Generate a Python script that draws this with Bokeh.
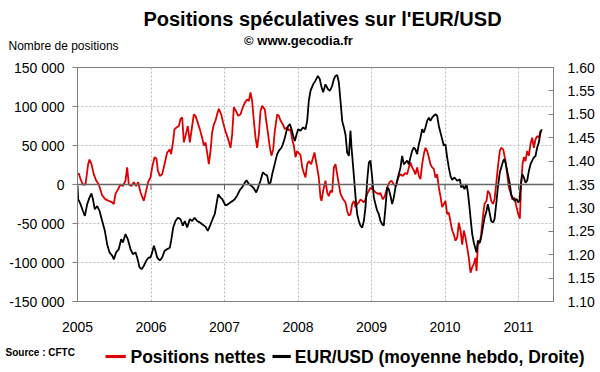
from bokeh.plotting import figure
from bokeh.models import (Range1d, LinearAxis, FixedTicker, Span, Label,
                          NumeralTickFormatter)
from bokeh.embed import file_html
from bokeh.resources import INLINE

# ---------------- data ----------------
pos_dates = [
    2005.000, 2005.018, 2005.041, 2005.073, 2005.109, 2005.145, 2005.163, 2005.190, 2005.222, 2005.254,
    2005.290, 2005.336, 2005.381, 2005.426, 2005.472, 2005.494, 2005.517, 2005.553, 2005.585, 2005.617,
    2005.653, 2005.676, 2005.698, 2005.735, 2005.766, 2005.798, 2005.825, 2005.857, 2005.902, 2005.925,
    2005.961, 2005.993, 2006.016, 2006.048, 2006.075, 2006.093, 2006.120, 2006.152, 2006.184, 2006.220,
    2006.256, 2006.274, 2006.302, 2006.320, 2006.347, 2006.379, 2006.401, 2006.424, 2006.447, 2006.469,
    2006.501, 2006.528, 2006.560, 2006.583, 2006.605, 2006.637, 2006.664, 2006.696, 2006.719, 2006.741,
    2006.764, 2006.787, 2006.810, 2006.832, 2006.855, 2006.878, 2006.900, 2006.923, 2006.955, 2006.982,
    2007.014, 2007.036, 2007.059, 2007.082, 2007.104, 2007.127, 2007.159, 2007.186, 2007.218, 2007.249,
    2007.277, 2007.308, 2007.331, 2007.354, 2007.376, 2007.399, 2007.422, 2007.444, 2007.467, 2007.490,
    2007.512, 2007.549, 2007.567, 2007.594, 2007.617, 2007.639, 2007.662, 2007.685, 2007.717, 2007.739,
    2007.762, 2007.794, 2007.821, 2007.853, 2007.875, 2007.898, 2007.921, 2007.943, 2007.966, 2007.989,
    2008.011, 2008.034, 2008.057, 2008.079, 2008.102, 2008.125, 2008.147, 2008.179, 2008.206, 2008.224,
    2008.252, 2008.283, 2008.306, 2008.320, 2008.342, 2008.374, 2008.397, 2008.419, 2008.442, 2008.465,
    2008.488, 2008.510, 2008.533, 2008.556, 2008.578, 2008.615, 2008.646, 2008.669, 2008.692, 2008.714,
    2008.737, 2008.760, 2008.782, 2008.805, 2008.828, 2008.850, 2008.873, 2008.896, 2008.918, 2008.941,
    2008.964, 2008.986, 2009.023, 2009.054, 2009.090, 2009.122, 2009.154, 2009.181, 2009.213, 2009.245,
    2009.272, 2009.303, 2009.335, 2009.362, 2009.394, 2009.426, 2009.462, 2009.485, 2009.508, 2009.530,
    2009.553, 2009.576, 2009.598, 2009.621, 2009.644, 2009.666, 2009.689, 2009.712, 2009.734, 2009.757,
    2009.780, 2009.802, 2009.825, 2009.848, 2009.870, 2009.893, 2009.916, 2009.938, 2009.961, 2009.984,
    2010.006, 2010.029, 2010.052, 2010.075, 2010.098, 2010.120, 2010.143, 2010.166, 2010.188, 2010.211,
    2010.234, 2010.256, 2010.279, 2010.302, 2010.324, 2010.347, 2010.370, 2010.392, 2010.415, 2010.429,
    2010.447, 2010.474, 2010.492, 2010.519, 2010.538, 2010.565, 2010.583, 2010.610, 2010.628, 2010.655,
    2010.674, 2010.701, 2010.719, 2010.746, 2010.764, 2010.792, 2010.823, 2010.846, 2010.869, 2010.891,
    2010.914, 2010.946, 2010.973, 2010.996, 2011.018, 2011.036, 2011.055, 2011.073, 2011.095, 2011.118,
    2011.141, 2011.163, 2011.186, 2011.209, 2011.231, 2011.254, 2011.277, 2011.299,
]
positions_nettes = [
    13000, 14000, 7000, 0, 0, 26000, 32000, 26000, 13000, 5000,
    0, -14000, -19000, -21000, -23000, -25000, -12000, -6000, 0, -2000,
    5000, 22000, 0, -2000, 3000, -2000, 3000, -10000, -21000, -12000,
    3000, 9000, 22000, 35000, 33000, 18000, 11000, 13000, 26000, 41000,
    45000, 39000, 56000, 71000, 73000, 75000, 84000, 86000, 54000, 62000,
    75000, 54000, 75000, 90000, 88000, 79000, 71000, 60000, 50000, 54000,
    41000, 26000, 43000, 67000, 77000, 82000, 90000, 97000, 90000, 79000,
    68000, 62000, 55000, 47000, 64000, 99000, 94000, 88000, 90000, 99000,
    105000, 109000, 107000, 118000, 107000, 82000, 60000, 47000, 64000, 94000,
    101000, 96000, 82000, 64000, 47000, 37000, 45000, 69000, 90000, 88000,
    82000, 77000, 71000, 73000, 69000, 71000, 58000, 50000, 35000, 43000,
    40000, 38000, 22000, 15000, 9000, 26000, 30000, 26000, 35000, 41000,
    26000, 9000, -17000, -21000, -8000, 5000, -10000, -15000, -8000, -10000,
    22000, 26000, 13000, 0, -12000, -19000, -23000, -34000, -40000, -38000,
    -25000, -21000, -29000, -25000, -23000, -19000, -21000, -23000, -19000, -12000,
    -8000, -4000, -7000, -10000, -12000, -11000, -19000, -15000, -4000, 3000,
    5000, 0, -2000, 9000, 13000, 11000, 15000, 13000, 22000, 28000,
    22000, 18000, 13000, 22000, 11000, 7000, 26000, 39000, 47000, 43000,
    35000, 26000, 22000, 20000, 9000, 13000, -4000, -15000, -29000, -25000,
    -21000, -38000, -36000, -48000, -59000, -64000, -72000, -68000, -49000, -59000,
    -77000, -59000, -68000, -81000, -94000, -113000, -106000, -102000, -94000, -111000,
    -77000, -74000, -64000, -38000, -25000, -21000, -8000, -12000, -21000, -25000,
    -19000, 5000, 22000, 43000, 47000, 45000, 30000, 13000, -4000, -10000,
    -19000, -17000, -29000, -38000, -44000, 0, 26000, 35000, 30000, 43000,
    37000, 52000, 60000, 47000, 58000, 62000, 60000, 69000,
]

eur_dates = [
    2005.000, 2005.009, 2005.041, 2005.073, 2005.100, 2005.132, 2005.163, 2005.190, 2005.209, 2005.236,
    2005.268, 2005.299, 2005.336, 2005.372, 2005.404, 2005.435, 2005.472, 2005.494, 2005.526, 2005.562,
    2005.594, 2005.617, 2005.653, 2005.685, 2005.721, 2005.753, 2005.789, 2005.812, 2005.844, 2005.871,
    2005.902, 2005.934, 2005.971, 2005.993, 2006.016, 2006.039, 2006.061, 2006.084, 2006.120, 2006.152,
    2006.184, 2006.220, 2006.256, 2006.274, 2006.302, 2006.333, 2006.365, 2006.401, 2006.433, 2006.460,
    2006.492, 2006.528, 2006.560, 2006.592, 2006.628, 2006.664, 2006.696, 2006.741, 2006.773, 2006.810,
    2006.846, 2006.868, 2006.891, 2006.914, 2006.946, 2006.968, 2006.991, 2007.014, 2007.050, 2007.082,
    2007.113, 2007.141, 2007.172, 2007.204, 2007.240, 2007.277, 2007.299, 2007.331, 2007.367, 2007.399,
    2007.431, 2007.458, 2007.490, 2007.522, 2007.549, 2007.580, 2007.603, 2007.626, 2007.649, 2007.671,
    2007.694, 2007.717, 2007.739, 2007.776, 2007.794, 2007.821, 2007.844, 2007.866, 2007.889, 2007.912,
    2007.934, 2007.957, 2007.980, 2008.002, 2008.034, 2008.070, 2008.102, 2008.125, 2008.147, 2008.170,
    2008.206, 2008.238, 2008.270, 2008.297, 2008.315, 2008.342, 2008.374, 2008.406, 2008.433, 2008.465,
    2008.488, 2008.510, 2008.533, 2008.556, 2008.578, 2008.601, 2008.624, 2008.646, 2008.669, 2008.692,
    2008.714, 2008.728, 2008.751, 2008.769, 2008.787, 2008.805, 2008.828, 2008.850, 2008.873, 2008.896,
    2008.918, 2008.941, 2008.964, 2008.986, 2009.009, 2009.032, 2009.054, 2009.077, 2009.099, 2009.122,
    2009.145, 2009.167, 2009.190, 2009.213, 2009.235, 2009.258, 2009.281, 2009.303, 2009.326, 2009.349,
    2009.371, 2009.394, 2009.417, 2009.440, 2009.462, 2009.485, 2009.508, 2009.530, 2009.553, 2009.576,
    2009.598, 2009.621, 2009.644, 2009.666, 2009.689, 2009.712, 2009.734, 2009.757, 2009.780, 2009.802,
    2009.825, 2009.848, 2009.870, 2009.893, 2009.916, 2009.938, 2009.961, 2009.984, 2010.006, 2010.029,
    2010.052, 2010.075, 2010.098, 2010.129, 2010.166, 2010.202, 2010.220, 2010.247, 2010.265, 2010.293,
    2010.311, 2010.329, 2010.347, 2010.370, 2010.392, 2010.415, 2010.429, 2010.447, 2010.474, 2010.492,
    2010.519, 2010.538, 2010.565, 2010.583, 2010.610, 2010.628, 2010.655, 2010.674, 2010.701, 2010.719,
    2010.746, 2010.764, 2010.792, 2010.810, 2010.828, 2010.855, 2010.882, 2010.900, 2010.928, 2010.950,
    2010.973, 2010.996, 2011.014, 2011.027, 2011.050, 2011.073, 2011.095, 2011.118, 2011.141, 2011.163,
    2011.186, 2011.209, 2011.231, 2011.254, 2011.277, 2011.299, 2011.317,
]
eur_usd = [
    1.348, 1.319, 1.308, 1.294, 1.283, 1.308, 1.322, 1.331, 1.319, 1.297,
    1.304, 1.294, 1.272, 1.251, 1.222, 1.205, 1.198, 1.190, 1.205, 1.212,
    1.233, 1.226, 1.244, 1.233, 1.212, 1.201, 1.205, 1.194, 1.173, 1.169,
    1.176, 1.187, 1.194, 1.194, 1.205, 1.219, 1.208, 1.194, 1.188, 1.194,
    1.208, 1.212, 1.215, 1.230, 1.258, 1.272, 1.279, 1.276, 1.262, 1.272,
    1.258, 1.276, 1.272, 1.279, 1.272, 1.269, 1.265, 1.260, 1.251, 1.265,
    1.279, 1.287, 1.308, 1.329, 1.322, 1.319, 1.312, 1.305, 1.308, 1.312,
    1.315, 1.319, 1.326, 1.337, 1.344, 1.354, 1.359, 1.351, 1.347, 1.342,
    1.333, 1.344, 1.358, 1.376, 1.372, 1.369, 1.351, 1.354, 1.372, 1.386,
    1.401, 1.415, 1.422, 1.429, 1.436, 1.450, 1.465, 1.475, 1.479, 1.468,
    1.454, 1.443, 1.457, 1.468, 1.465, 1.472, 1.468, 1.486, 1.529, 1.550,
    1.564, 1.572, 1.582, 1.575, 1.561, 1.547, 1.564, 1.554, 1.550, 1.561,
    1.575, 1.582, 1.584, 1.568, 1.529, 1.486, 1.472, 1.457, 1.418, 1.411,
    1.465, 1.429, 1.386, 1.351, 1.315, 1.287, 1.272, 1.262, 1.258, 1.272,
    1.301, 1.358, 1.397, 1.401, 1.365, 1.322, 1.308, 1.294, 1.287, 1.272,
    1.265, 1.262, 1.301, 1.344, 1.340, 1.326, 1.308, 1.322, 1.344, 1.358,
    1.372, 1.386, 1.411, 1.393, 1.397, 1.401, 1.393, 1.408, 1.422, 1.429,
    1.425, 1.415, 1.436, 1.450, 1.468, 1.461, 1.472, 1.486, 1.493, 1.486,
    1.493, 1.497, 1.500, 1.497, 1.475, 1.461, 1.447, 1.433, 1.436, 1.408,
    1.386, 1.368, 1.360, 1.365, 1.358, 1.361, 1.344, 1.347, 1.340, 1.351,
    1.333, 1.308, 1.279, 1.244, 1.226, 1.212, 1.205, 1.230, 1.226, 1.237,
    1.262, 1.279, 1.294, 1.308, 1.287, 1.272, 1.269, 1.276, 1.315, 1.344,
    1.376, 1.386, 1.401, 1.404, 1.393, 1.372, 1.351, 1.329, 1.319, 1.315,
    1.319, 1.312, 1.315, 1.344, 1.372, 1.365, 1.354, 1.358, 1.379, 1.393,
    1.401, 1.408, 1.411, 1.429, 1.440, 1.461, 1.468,
]

year_ticks = [2005, 2006, 2007, 2008, 2009, 2010, 2011]
year_labels = ["2005", "2006", "2007", "2008", "2009", "2010", "2011"]
left_ticks = [-150000, -100000, -50000, 0, 50000, 100000, 150000]
left_labels = ["-150 000", "-100 000", "-50 000", "0", "50 000", "100 000", "150 000"]
right_ticks = [1.10, 1.15, 1.20, 1.25, 1.30, 1.35, 1.40, 1.45, 1.50, 1.55, 1.60]
series_names = ["Positions nettes", "EUR/USD (moyenne hebdo, Droite)"]

FONT = "Liberation Sans"
RED = "#DD0000"
GRAY = "#808080"
TICK_SIZE = "14px"

p = figure(width=600, height=372, output_backend="svg", toolbar_location=None,
           x_range=Range1d(2005.0, 2011.476), y_range=Range1d(-150000, 150000),
           min_border_left=77, min_border_right=47, min_border_top=67, min_border_bottom=71)
p.extra_y_ranges = {"eur": Range1d(1.10, 1.60)}
p.outline_line_color = GRAY
p.background_fill_color = "white"
p.border_fill_color = "white"

# x axis
xa = p.xaxis[0]
xa.ticker = FixedTicker(ticks=year_ticks)
xa.major_label_overrides = {t: l for t, l in zip(year_ticks, year_labels)}
xa.major_tick_out = 0
xa.major_tick_in = 0
xa.minor_tick_out = 0
xa.minor_tick_in = 0
xa.axis_line_color = GRAY
xa.major_label_standoff = 20
xa.major_label_text_font = FONT
xa.major_label_text_font_size = TICK_SIZE
xa.major_label_text_color = "#000000"

# left axis
ya = p.yaxis[0]
ya.ticker = FixedTicker(ticks=left_ticks)
ya.major_label_overrides = {t: l for t, l in zip(left_ticks, left_labels)}
ya.major_tick_out = 5
ya.major_tick_in = 0
ya.minor_tick_out = 0
ya.minor_tick_in = 0
ya.axis_line_color = GRAY
ya.major_tick_line_color = GRAY
ya.major_label_standoff = 8
ya.major_label_text_font = FONT
ya.major_label_text_font_size = TICK_SIZE
ya.major_label_text_color = "#000000"

# right axis
ra = LinearAxis(y_range_name="eur", ticker=FixedTicker(ticks=right_ticks),
                formatter=NumeralTickFormatter(format="0.00"))
ra.major_tick_out = 0
ra.major_tick_in = 5
ra.minor_tick_out = 0
ra.minor_tick_in = 0
ra.axis_line_color = GRAY
ra.major_tick_line_color = GRAY
ra.major_label_standoff = 14
ra.major_label_text_font = FONT
ra.major_label_text_font_size = TICK_SIZE
ra.major_label_text_color = "#000000"
p.add_layout(ra, "right")

# grids
p.xgrid.ticker = FixedTicker(ticks=year_ticks)
p.xgrid.grid_line_color = "#BBBBBB"
p.xgrid.grid_line_dash = "2 2"
p.ygrid.ticker = FixedTicker(ticks=left_ticks)
p.ygrid.grid_line_color = "#BBBBBB"
p.ygrid.grid_line_dash = "2 2"

p.add_layout(Span(location=0, dimension="width", line_color="#666666", line_width=1.5))
p.segment(x0=year_ticks, y0=[0] * len(year_ticks), x1=year_ticks, y1=[-7000] * len(year_ticks),
          line_color="#666666", line_width=1)

p.line(pos_dates, positions_nettes, line_color=RED, line_width=1.8)
p.line(eur_dates, eur_usd, line_color="black", line_width=1.8, y_range_name="eur")

# texts in canvas coordinates, kept in the side panels (center annotations are clipped)
def canvas_label(x, y, text, size, bold=False, align="left", color="black",
                 panel="above", **kw):
    lab = Label(x=x, y=y, x_units="canvas", y_units="canvas", text=text,
                text_align=align, text_baseline="middle", text_font=FONT,
                text_font_style="bold" if bold else "normal",
                text_font_size=size, text_color=color, **kw)
    p.add_layout(lab, panel)

canvas_label(322, 18, "Positions spéculatives sur l'EUR/USD", "20px", bold=True, align="center")
canvas_label(298, 40, "© www.gecodia.fr", "13px", bold=True, align="center")
canvas_label(8, 45, "Nombre de positions", "12px")
canvas_label(5, 352, "Source : CFTC", "10px", bold=True)

# legend: two line samples + names
canvas_label(105, 356, "\u00a0", "1px", background_fill_color=RED, padding=(10, 1),
             panel="below")
canvas_label(272, 356, "\u00a0", "1px", background_fill_color="black", padding=(9, 1),
             panel="below")
canvas_label(130, 356, series_names[0] + "\u00a0" * 6 + series_names[1], "17.5px",
             bold=True, panel="below")

open("out.html", "w").write(file_html(p, INLINE))
